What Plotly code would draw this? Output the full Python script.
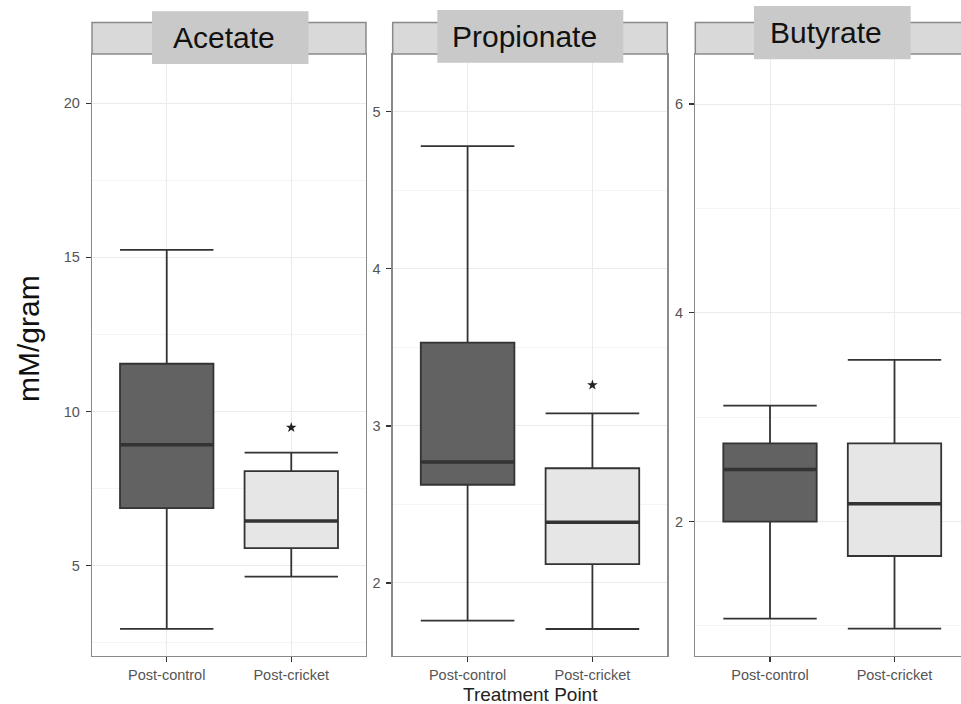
import plotly.graph_objects as go

# ---- data ----
panels = ["Acetate", "Propionate", "Butyrate"]
groups = ["Post-control", "Post-cricket"]
group_pos = [1, 2]

acetate_lower = [2.95, 4.65]
acetate_q1 = [6.87, 5.57]
acetate_median = [8.92, 6.45]
acetate_q3 = [11.55, 8.07]
acetate_upper = [15.24, 8.67]
acetate_star = [None, 9.48]

propionate_lower = [1.76, 1.707]
propionate_q1 = [2.625, 2.12]
propionate_median = [2.77, 2.387]
propionate_q3 = [3.53, 2.73]
propionate_upper = [4.78, 3.08]
propionate_star = [None, 3.26]

butyrate_lower = [1.07, 0.974]
butyrate_q1 = [2.0, 1.67]
butyrate_median = [2.50, 2.17]
butyrate_q3 = [2.75, 2.75]
butyrate_upper = [3.11, 3.55]
butyrate_star = [None, None]

series = [
    (acetate_lower, acetate_q1, acetate_median, acetate_q3, acetate_upper, acetate_star),
    (propionate_lower, propionate_q1, propionate_median, propionate_q3, propionate_upper, propionate_star),
    (butyrate_lower, butyrate_q1, butyrate_median, butyrate_q3, butyrate_upper, butyrate_star),
]

y_ranges = [[2.073, 21.595], [1.535, 5.367], [0.712, 6.48]]
y_dtick = [5, 1, 2]
y_minor = [2.5, 0.5, 1]

# ---- styling ----
W, H = 961, 704
fills = ["#626262", "#e6e6e6"]
line_col = "#333333"
box_w = 0.75
font_fam = "Liberation Sans, Arial, Helvetica, sans-serif"

def px(x):
    return x / W

def py(y):
    return 1 - y / H

panel_px = [(92, 366), (392.7, 667.3), (695.3, 961)]
x_ranges = [[0.4, 2.6], [0.4, 2.6], [0.4, 0.4 + (961 - 695.3) / 124.5]]
plot_top, plot_bot = 54, 656
strip_top = 22.5

label_boxes = [(152, 308.5, 11.3, 64), (437.3, 623.3, 10, 62.7), (754, 910.7, 6, 59.3)]

fig = go.Figure()

for i, (lo, q1, med, q3, up, star) in enumerate(series):
    xa = "x" if i == 0 else f"x{i+1}"
    ya = "y" if i == 0 else f"y{i+1}"
    for g in range(2):
        fig.add_trace(go.Box(
            x=[group_pos[g]], lowerfence=[lo[g]], q1=[q1[g]], median=[med[g]],
            q3=[q3[g]], upperfence=[up[g]], width=box_w, whiskerwidth=1,
            fillcolor=fills[g], line=dict(color=line_col, width=1.8),
            boxpoints=False, xaxis=xa, yaxis=ya, showlegend=False, hoverinfo="skip",
        ))
        # thicker median line
        fig.add_trace(go.Scatter(
            x=[group_pos[g] - box_w / 2, group_pos[g] + box_w / 2], y=[med[g], med[g]],
            mode="lines", line=dict(color=line_col, width=3.5),
            xaxis=xa, yaxis=ya, showlegend=False, hoverinfo="skip",
        ))
        if star[g] is not None:
            fig.add_trace(go.Scatter(
                x=[group_pos[g]], y=[star[g]], mode="markers",
                marker=dict(symbol="star", size=8, color="#222222"),
                xaxis=xa, yaxis=ya, showlegend=False, hoverinfo="skip",
            ))

layout = dict(
    width=W, height=H, autosize=False,
    margin=dict(l=0, r=0, t=0, b=0),
    paper_bgcolor="white", plot_bgcolor="white",
    font=dict(family=font_fam, color="#4d4d4d"),
    showlegend=False,
)

for i in range(3):
    xk = "xaxis" if i == 0 else f"xaxis{i+1}"
    yk = "yaxis" if i == 0 else f"yaxis{i+1}"
    xa = "x" if i == 0 else f"x{i+1}"
    x0, x1 = panel_px[i]
    layout[xk] = dict(
        domain=[px(x0), min(px(x1), 1.0)], range=x_ranges[i], anchor="y" if i == 0 else f"y{i+1}",
        tickmode="array", tickvals=group_pos, ticktext=groups,
        showgrid=True, gridcolor="#ebebeb", gridwidth=1, zeroline=False,
        showline=True, linecolor="#8a8a8a", linewidth=1.3, mirror=True,
        ticks="outside", ticklen=5, tickwidth=1.3, tickcolor="#333333",
        tickfont=dict(size=14.5, color="#555555", family=font_fam),
        fixedrange=True,
    )
    layout[yk] = dict(
        domain=[py(plot_bot), py(plot_top)], range=y_ranges[i], anchor=xa,
        tickmode="linear", tick0=0, dtick=y_dtick[i],
        minor=dict(tickmode="linear", tick0=0, dtick=y_minor[i], showgrid=True,
                   gridcolor="#f2f2f2", gridwidth=0.8, ticks=""),
        showgrid=True, gridcolor="#ebebeb", gridwidth=1, zeroline=False,
        showline=True, linecolor="#8a8a8a", linewidth=1.3, mirror=(i < 2),
        ticks="outside", ticklen=5, tickwidth=1.3, tickcolor="#333333",
        tickfont=dict(size=14.5, color="#555555", family=font_fam),
        ticklabelstandoff=3,
        fixedrange=True,
    )

shapes = []
annotations = []
for i in range(3):
    x0, x1 = panel_px[i]
    shapes.append(dict(type="rect", xref="paper", yref="paper",
                       x0=px(x0), x1=px(x1) if x1 < W else 1.02, y0=py(plot_top), y1=py(strip_top),
                       fillcolor="#d9d9d9", line=dict(color="#8a8a8a", width=1.5), layer="above"))
    bx0, bx1, by0, by1 = label_boxes[i]
    shapes.append(dict(type="rect", xref="paper", yref="paper",
                       x0=px(bx0), x1=px(bx1), y0=py(by1), y1=py(by0),
                       fillcolor="#c9c9c9", line=dict(width=0), layer="above"))
    annotations.append(dict(text=panels[i], xref="paper", yref="paper",
                            x=px((bx0 + bx1) / 2 - 6), y=py((by0 + by1) / 2),
                            xanchor="center", yanchor="middle", showarrow=False,
                            font=dict(size=30, color="#111111", family=font_fam)))

annotations.append(dict(text="Treatment Point", xref="paper", yref="paper",
                        x=px(530), y=py(694), xanchor="center", yanchor="middle",
                        showarrow=False, font=dict(size=19, color="#222222", family=font_fam)))
annotations.append(dict(text="mM/gram", xref="paper", yref="paper",
                        x=px(29), y=py(339), xanchor="center", yanchor="middle",
                        textangle=-90, showarrow=False,
                        font=dict(size=30, color="#111111", family=font_fam)))

layout["shapes"] = shapes
layout["annotations"] = annotations
fig.update_layout(**layout)

fig.write_html(
    "out.html",
    config={"displayModeBar": False, "staticPlot": True},
    post_script="document.body.style.margin='0';document.body.style.overflow='hidden';",
)
